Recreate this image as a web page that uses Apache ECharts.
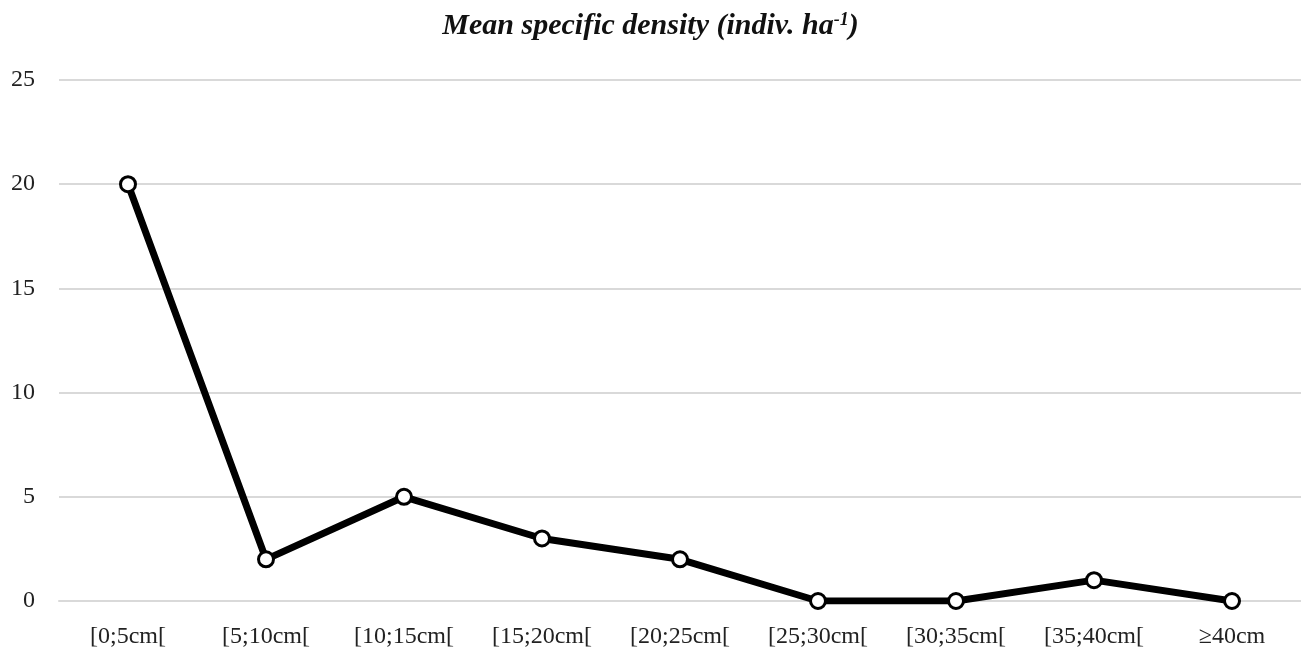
<!DOCTYPE html>
<html>
<head>
<meta charset="utf-8">
<script src="https://cdn.jsdelivr.net/npm/echarts@6/dist/echarts.min.js"></script>
<style>
html, body { margin: 0; padding: 0; background: #fff; }
#chart { width: 1301px; height: 657px; }
</style>
</head>
<body>
<div id="chart"></div>
<script>
var categories = ['[0;5cm[', '[5;10cm[', '[10;15cm[', '[15;20cm[', '[20;25cm[', '[25;30cm[', '[30;35cm[', '[35;40cm[', '≥40cm'];
var densities = [20, 2, 5, 3, 2, 0, 0, 1, 0];

var chart = echarts.init(document.getElementById('chart'));
chart.setOption({
	animation: false,
	title: {
		text: 'Mean specific density (indiv. ha{sup|-1})',
		left: 'center',
		top: 6,
		textStyle: {
			fontFamily: 'Liberation Serif',
			fontSize: 30,
			fontStyle: 'italic',
			fontWeight: 'bold',
			color: '#111',
			rich: {
				sup: {
					fontFamily: 'Liberation Serif',
					fontSize: 18,
					fontStyle: 'italic',
					fontWeight: 'bold',
					color: '#111',
					verticalAlign: 'top',
					padding: [0, 0, 12, 0]
				}
			}
		}
	},
	grid: {
		left: 59,
		right: 0,
		top: 80,
		bottom: 56,
		containLabel: false
	},
	xAxis: {
		type: 'category',
		data: categories,
		boundaryGap: true,
		axisLine: { show: true, lineStyle: { color: '#d9d9d9', width: 2 } },
		axisTick: { show: false },
		axisLabel: {
			fontFamily: 'Liberation Serif',
			fontSize: 24,
			color: '#222',
			margin: 24,
			interval: 0
		}
	},
	yAxis: {
		type: 'value',
		min: 0,
		max: 25,
		interval: 5,
		axisLine: { show: false },
		axisTick: { show: false },
		splitLine: { lineStyle: { color: '#d9d9d9', width: 2 } },
		axisLabel: {
			fontFamily: 'Liberation Serif',
			fontSize: 24,
			color: '#222',
			margin: 24
		}
	},
	series: [{
		type: 'line',
		data: densities,
		symbol: 'circle',
		symbolSize: 15,
		lineStyle: { color: '#000', width: 7 },
		itemStyle: { color: '#fff', borderColor: '#000', borderWidth: 3 },
		z: 3
	}]
});
</script>
</body>
</html>
